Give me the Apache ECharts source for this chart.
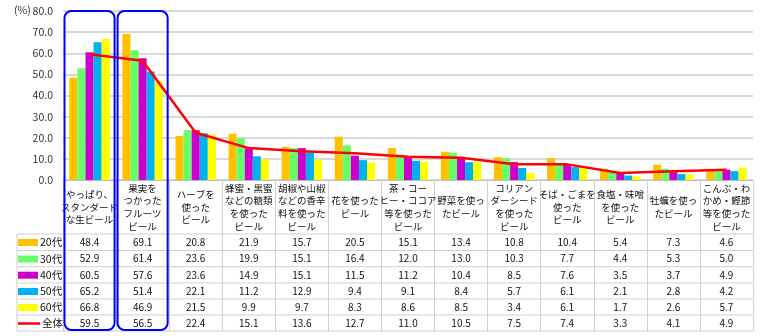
<!DOCTYPE html>
<html>
<head>
<meta charset="utf-8">
<script src="https://cdn.jsdelivr.net/npm/echarts@6/dist/echarts.min.js"></script>
<style>html,body{margin:0;padding:0;background:#fff}#c{width:764px;height:336px}</style>
</head>
<body>
<div id="c"></div>
<script>
var categories = ['やっぱり、\nスタンダード\nな生ビール', '果実を\nつかった\nフルーツ\nビール', 'ハーブを\n使った\nビール', '蜂蜜・黒蜜\nなどの糖類\nを使った\nビール', '胡椒や山椒\nなどの香辛\n料を使った\nビール', '花を使った\nビール', '茶・コー\nヒー・ココア\n等を使った\nビール', '野菜を使っ\nたビール', 'コリアン\nダーシード\nを使った\nビール', 'そば・ごまを\n使った\nビール', '食塩・味噌\nを使った\nビール', '牡蠣を使っ\nたビール', 'こんぶ・わ\nかめ・鰹節\n等を使った\nビール'];
var seriesNames = ['20代', '30代', '40代', '50代', '60代', '全体'];
var v20 = [48.4, 69.1, 20.8, 21.9, 15.7, 20.5, 15.1, 13.4, 10.8, 10.4, 5.4, 7.3, 4.6];
var v30 = [52.9, 61.4, 23.6, 19.9, 15.1, 16.4, 12.0, 13.0, 10.3, 7.7, 4.4, 5.3, 5.0];
var v40 = [60.5, 57.6, 23.6, 14.9, 15.1, 11.5, 11.2, 10.4, 8.5, 7.6, 3.5, 3.7, 4.9];
var v50 = [65.2, 51.4, 22.1, 11.2, 12.9, 9.4, 9.1, 8.4, 5.7, 6.1, 2.1, 2.8, 4.2];
var v60 = [66.8, 46.9, 21.5, 9.9, 9.7, 8.3, 8.6, 8.5, 3.4, 6.1, 1.7, 2.6, 5.7];
var vAll = [59.5, 56.5, 22.4, 15.1, 13.6, 12.7, 11.0, 10.5, 7.5, 7.4, 3.3, 4.1, 4.9];
var yTicks = [0, 10, 20, 30, 40, 50, 60, 70, 80];

var allValues = [v20, v30, v40, v50, v60, vAll];
var colors = ['#FFC000', '#66FF66', '#CC00CC', '#00B0F0', '#FFFF00', '#FF0000'];
var FONT = 'Noto Sans CJK JP';

var gridLeft = 63, gridRight = 753, gridTop = 11, gridBottom = 180;
var rowLines = [234, 250.5, 266.7, 283, 299, 315, 331];
var tableLeft = 17;

var xAxes = [{
  type: 'category', gridIndex: 0, data: categories, position: 'bottom',
  axisLine: { show: true, lineStyle: { color: '#BFBFBF', width: 1 } },
  axisTick: { show: true, interval: 0, length: rowLines[6] - gridBottom, lineStyle: { color: '#D0D0D0' } },
  axisLabel: { interval: 0, margin: 27, verticalAlign: 'middle', fontSize: 9.5, lineHeight: 12.7, color: '#111', fontFamily: FONT },
  splitLine: { show: false }
}];
for (var r = 0; r < 6; r++) {
  var center = (rowLines[r] + rowLines[r + 1]) / 2;
  xAxes.push({
    type: 'category', gridIndex: 0, position: 'bottom', offset: center - gridBottom,
    data: allValues[r].map(function (v) { return v.toFixed(1); }),
    axisLine: { show: false }, axisTick: { show: false }, splitLine: { show: false },
    axisLabel: { interval: 0, margin: 0, verticalAlign: 'middle', fontSize: 10, color: '#111', fontFamily: FONT }
  });
}

var series = [];
for (var i = 0; i < 5; i++) {
  series.push({
    name: seriesNames[i], type: 'bar', xAxisIndex: 0, yAxisIndex: 0, data: allValues[i],
    barGap: '0%', barCategoryGap: '24%', itemStyle: { color: colors[i] }, silent: true
  });
}
series.push({
  name: seriesNames[5], type: 'line', xAxisIndex: 0, yAxisIndex: 0, data: vAll,
  symbol: 'none', lineStyle: { color: colors[5], width: 2.5 }, itemStyle: { color: colors[5] }, z: 5, silent: true
});

var legends = [];
for (var k = 0; k < 6; k++) {
  legends.push({
    left: tableLeft + 1, top: rowLines[k] + 0.5, orient: 'horizontal', selectedMode: false,
    itemWidth: k < 5 ? 20 : 22, itemHeight: k < 5 ? 7 : 2.5, padding: 0,
    textStyle: { fontSize: 10.5, lineHeight: 16, color: '#111', fontFamily: FONT, padding: [0, 0, 0, -3] },
    data: [{ name: seriesNames[k], icon: 'rect' }]
  });
}

var graphics = [];
for (var h = 0; h < rowLines.length; h++) {
  graphics.push({ type: 'line', shape: { x1: tableLeft, y1: rowLines[h], x2: gridRight, y2: rowLines[h] }, style: { stroke: '#D0D0D0', lineWidth: 1 }, z: 1 });
}
graphics.push({ type: 'line', shape: { x1: tableLeft, y1: rowLines[0], x2: tableLeft, y2: rowLines[6] }, style: { stroke: '#D0D0D0', lineWidth: 1 }, z: 1 });
graphics.push({ type: 'text', left: 14, top: 5, style: { text: '(%)', fontSize: 10.5, fill: '#333', fontFamily: FONT } });
var cw = (gridRight - gridLeft) / categories.length;
for (var b = 0; b < 2; b++) {
  graphics.push({ type: 'rect', shape: { x: gridLeft + cw * b + 1.5, y: gridTop, width: cw - 3, height: 319, r: 7 },
    style: { fill: 'none', stroke: '#0000FF', lineWidth: 2 }, z: 100 });
}

var chart = echarts.init(document.getElementById('c'), null, { renderer: 'canvas' });
chart.setOption({
  animation: false,
  backgroundColor: '#fff',
  grid: { left: gridLeft, right: 764 - gridRight, top: gridTop, bottom: 336 - gridBottom, containLabel: false, outerBoundsMode: 'none' },
  xAxis: xAxes,
  yAxis: {
    type: 'value', min: yTicks[0], max: yTicks[yTicks.length - 1], interval: 10,
    axisLine: { show: false }, axisTick: { show: false },
    axisLabel: { formatter: function (v) { return v.toFixed(1); }, margin: 10, fontSize: 10.5, color: '#333', fontFamily: FONT },
    splitLine: { lineStyle: { color: '#CCCCCC', width: 1.5 } }
  },
  legend: legends,
  series: series,
  graphic: graphics
});
</script>
</body>
</html>
